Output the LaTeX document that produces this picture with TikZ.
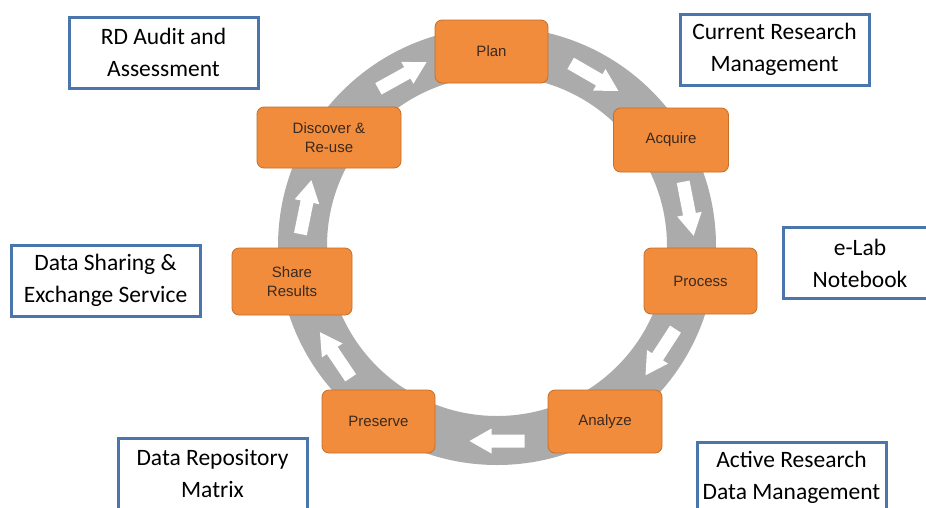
\documentclass[tikz,border=0pt]{standalone}
\usepackage{fontspec}
\setmainfont{Carlito}
\newfontfamily\stagefont{Liberation Sans}
\definecolor{ringgray}{HTML}{ABABAB}
\definecolor{stageorange}{HTML}{F08C3C}
\definecolor{stageedge}{HTML}{C46F2A}
\definecolor{stagetext}{HTML}{3A2A20}
\definecolor{boxblue}{HTML}{4A76AC}
\begin{document}
\begin{tikzpicture}[x=1pt,y=-1pt,
  stage/.style={draw=stageedge, line width=0.8pt, fill=stageorange, rounded corners=7pt,
    inner sep=0pt, align=center, font=\stagefont\fontsize{15}{19}\selectfont, text=stagetext},
  infobox/.style={draw=boxblue, line width=3pt, fill=white, inner sep=0pt,
    minimum width=189pt, minimum height=71pt, align=center,
    font=\fontsize{23.5}{32}\selectfont},
  ringarrow/.pic={\fill[white] (-27.5,-6.5) -- (5.5,-6.5) -- (5.5,-12.5) -- (27.5,0)
    -- (5.5,12.5) -- (5.5,6.5) -- (-27.5,6.5) -- cycle;}
]
\useasboundingbox (0,0) rectangle (926,507);
\fill[white] (0,0) rectangle (926,507);
% ring
\coordinate (ringc) at (497,246);
\draw[ringgray, line width=49pt] (ringc) circle[radius=194.5pt];
% white block arrows on the ring (clockwise)
\pic[rotate=-30]  at (594.5,77.1)  {ringarrow};
\pic[rotate=-79]  at (688.4,208.8) {ringarrow};
\pic[rotate=-123] at (660.5,352.2) {ringarrow};
\pic[rotate=180]  at (497,441)     {ringarrow};
\pic[rotate=124]  at (335.3,355)   {ringarrow};
\pic[rotate=78.5] at (305.9,207.1) {ringarrow};
\pic[rotate=29]   at (402.5,75.5)  {ringarrow};
% stages
\node[stage, minimum width=113pt, minimum height=63pt] (plan)     at (491.5,51.5) {Plan};
\node[stage, minimum width=115pt, minimum height=64pt] (acquire)  at (671,140)    {Acquire};
\node[stage, minimum width=113pt, minimum height=66pt] (process)  at (700.5,281)  {Process};
\node[stage, minimum width=114pt, minimum height=63pt] (analyze)  at (605,421.5)  {Analyze};
\node[stage, minimum width=113pt, minimum height=63pt] (preserve) at (378.5,421.5){Preserve};
\node[stage, minimum width=120pt, minimum height=67pt] (share)    at (292,281.5)  {Share\\Results};
\node[stage, minimum width=144pt, minimum height=61pt] (discover) at (329,137.5)  {Discover \&\\Re-use};
% service boxes
\node[infobox] (audit)   at (163.5,52.5)  {RD Audit and\\Assessment};
\node[infobox] (current) at (774.5,49.5)  {Current Research\\Management};
\node[infobox] (sharing) at (105.5,280.5) {Data Sharing \&\\Exchange Service};
\node[infobox, minimum width=154pt] (elab) at (860,263) {e-Lab\\Notebook};
\node[infobox] (repo)    at (212.5,473.5) {Data Repository\\Matrix};
\node[infobox] (active)  at (791.5,477.5) {Active Research\\Data Management};
\end{tikzpicture}
\end{document}
